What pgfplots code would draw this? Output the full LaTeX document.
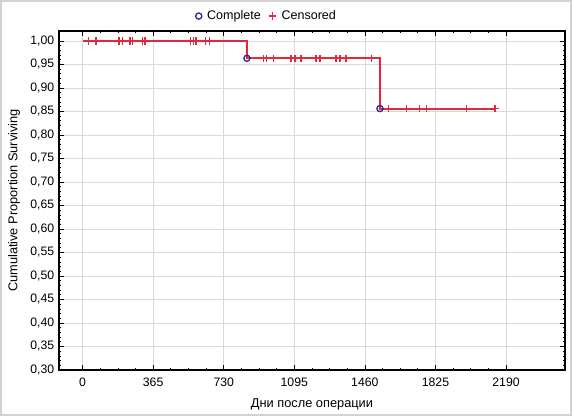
\documentclass[border=0pt]{standalone}
\usepackage{fontspec}
\setmainfont{Liberation Sans}
\usepackage{pgfplots}
\pgfplotsset{compat=1.18}
\definecolor{kmred}{RGB}{226,40,60}
\definecolor{kmblue}{RGB}{45,45,135}
\begin{document}
\begin{tikzpicture}
\useasboundingbox (-44.25pt,-34.5pt) rectangle (384.75pt,277.5pt);
\draw[gray!35, line width=1.2pt] (-43.6pt,-33.9pt) rectangle (384.1pt,276.9pt);
\begin{axis}[
  at={(0,0)}, anchor=south west,
  scale only axis, width=379.5pt, height=254.25pt,
  xmin=-122, xmax=2495, ymin=0.30, ymax=1.021,
  xtick={0,365,730,1095,1460,1825,2190},
  ytick={0.30,0.35,0.40,0.45,0.50,0.55,0.60,0.65,0.70,0.75,0.80,0.85,0.90,0.95,1.00},
  minor x tick num=3, minor y tick num=4,
  tick align=inside,
  major tick length=3.5pt, minor tick length=1.8pt,
  tick style={black, line width=0.5pt},
  grid=major, grid style={gray!30, line width=0.4pt},
  axis line style={black, line width=1pt},
  /pgf/number format/assume math mode=true,
  ticklabel style={font=\fontsize{9.2}{10}\selectfont},
  xticklabel style={/pgf/number format/1000 sep={}, yshift=-2.5pt},
  yticklabel style={/pgf/number format/.cd, use comma, fixed, fixed zerofill, precision=2},
  xlabel={Дни после операции},
  ylabel={Cumulative Proportion Surviving},
  label style={font=\fontsize{9.6}{11}\selectfont},
  xlabel style={at={(axis description cs:0.5,-0.102)}, anchor=center},
  ylabel style={at={(axis description cs:-0.089,0.5)}, anchor=center},
  legend style={at={(axis description cs:0.414,1.044)}, anchor=center, draw=none, fill=none,
    legend columns=2, font=\fontsize{9.4}{10}\selectfont,
    nodes={inner xsep=4pt},
    /tikz/every even column/.append style={column sep=2pt}},
  legend cell align=left,
]
\addplot[kmred, line width=1.4pt, const plot, forget plot] coordinates {
  (0,1.0) (850,0.963) (1538,0.856) (2133,0.856)
};
\addplot[only marks, mark=o, mark size=2.3pt, kmblue, mark options={line width=1pt, fill=white}] coordinates {
  (850,0.963) (1538,0.856)
};
\addlegendentry{Complete}
\addplot[only marks, mark=+, mark size=2.8pt, kmred, mark options={line width=1pt}] coordinates {
  (29,1.0) (69,1.0) (189,1.0) (207,1.0) (245,1.0) (259,1.0) (310,1.0) (322,1.0)
  (559,1.0) (572,1.0) (586,1.0) (637,1.0) (655,1.0)
  (934,0.963) (952,0.963) (986,0.963) (1078,0.963) (1099,0.963) (1130,0.963)
  (1207,0.963) (1228,0.963) (1311,0.963) (1331,0.963) (1362,0.963) (1495,0.963)
  (1581,0.856) (1676,0.856) (1742,0.856) (1780,0.856) (1987,0.856) (2133,0.856)
};
\addlegendentry{Censored}
\end{axis}
\end{tikzpicture}
\end{document}
